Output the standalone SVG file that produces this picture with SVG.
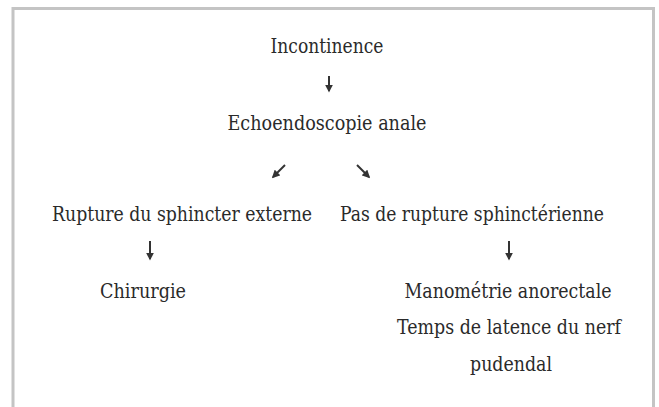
<svg xmlns="http://www.w3.org/2000/svg" width="659" height="407" viewBox="0 0 659 407">
<defs>
<style>
text{font-family:'DejaVu Serif','Liberation Serif',serif;font-size:20px;fill:#2a2a2a}
.c{text-anchor:middle}
.arr{stroke:#333;stroke-width:2;fill:none}
</style>
<marker id="ah" viewBox="0 0 10 10" refX="8" refY="5" markerWidth="4" markerHeight="4" orient="auto"><path d="M0,0 L10,5 L0,10 z" fill="#333"/></marker>
</defs>
<rect x="0" y="0" width="659" height="407" fill="#fff"/>
<path d="M13,407 V8.5 H653.5 V407" fill="none" stroke="#c4c4c4" stroke-width="3"/>
<g id="n-incontinence"><text class="c" x="327" y="53" textLength="113" lengthAdjust="spacingAndGlyphs">Incontinence</text></g>
<g id="n-echo"><text class="c" x="327" y="130" textLength="199" lengthAdjust="spacingAndGlyphs">Echoendoscopie anale</text></g>
<g id="n-rupture"><text x="52" y="221" textLength="260" lengthAdjust="spacingAndGlyphs">Rupture du sphincter externe</text></g>
<g id="n-pas"><text x="340" y="221" textLength="264" lengthAdjust="spacingAndGlyphs">Pas de rupture sphinctérienne</text></g>
<g id="n-chirurgie"><text x="100" y="298" textLength="86" lengthAdjust="spacingAndGlyphs">Chirurgie</text></g>
<g id="n-mano"><text class="c" x="508" y="298" textLength="207" lengthAdjust="spacingAndGlyphs">Manométrie anorectale</text>
<text class="c" x="509" y="334" textLength="224" lengthAdjust="spacingAndGlyphs">Temps de latence du nerf</text>
<text class="c" x="511" y="371" textLength="82" lengthAdjust="spacingAndGlyphs">pudendal</text></g>
<g id="connectors" class="arr">
<path d="M329,76 V91" marker-end="url(#ah)"/>
<path d="M285,165 L273,177" marker-end="url(#ah)"/>
<path d="M357,165 L369,177" marker-end="url(#ah)"/>
<path d="M150,241 V259" marker-end="url(#ah)"/>
<path d="M509,241 V259" marker-end="url(#ah)"/>
</g>
</svg>
